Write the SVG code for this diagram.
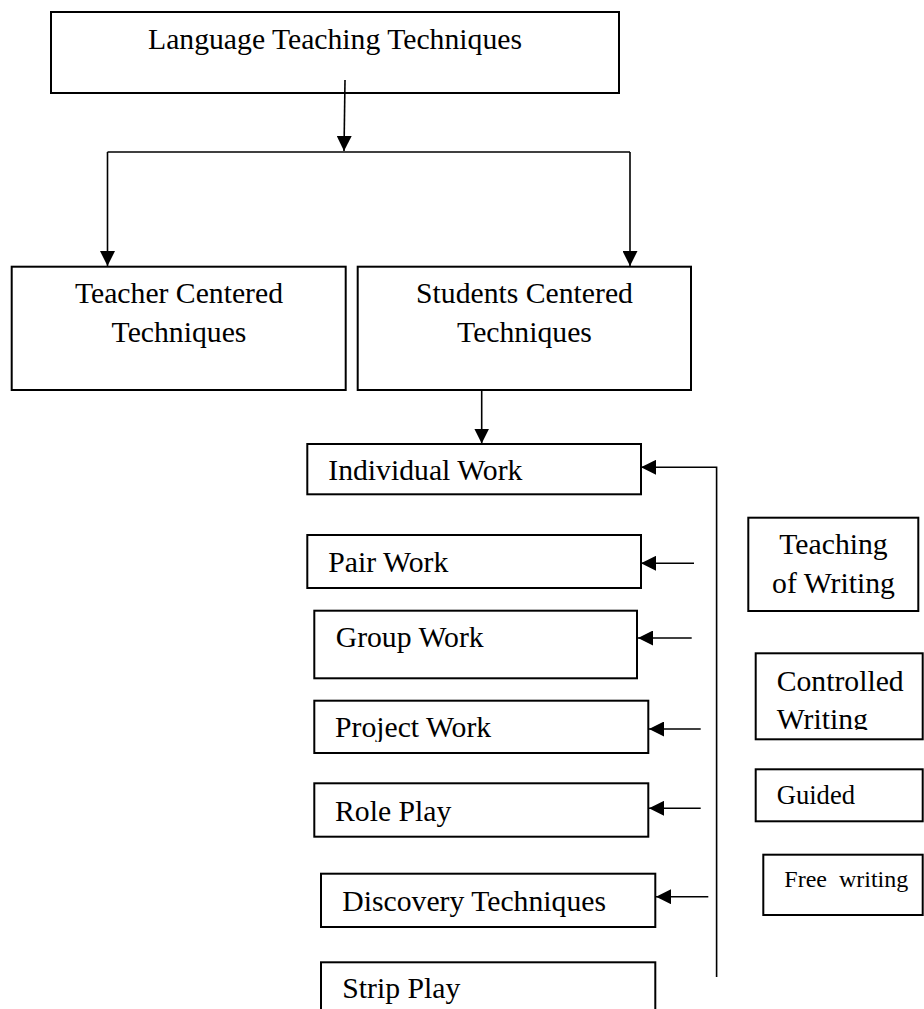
<svg xmlns="http://www.w3.org/2000/svg" width="924" height="1009" viewBox="0 0 924 1009">
<style>
.box{fill:#fff;stroke:#000;stroke-width:2}
.t{font-family:"Liberation Serif","Times New Roman",serif;font-size:29.7px;fill:#000}
.c{text-anchor:middle}
.conn{fill:none;stroke:#000;stroke-width:1.6}
</style>
<defs>
<marker id="ah" viewBox="0 0 15 15" markerWidth="15" markerHeight="15" refX="15" refY="7.5" orient="auto" markerUnits="userSpaceOnUse">
<path d="M0,0 L15,7.5 L0,15 Z" fill="#000"/>
</marker>
<clipPath id="clipCW"><rect x="750" y="650" width="174" height="80"/></clipPath>
<clipPath id="clipPW"><rect x="310" y="700" width="340" height="42"/></clipPath>
</defs>

<g id="n-top">
<rect class="box" x="51" y="12" width="568" height="81"/>
<text class="t c" x="335" y="49.3">Language Teaching Techniques</text>
</g>
<g id="n-teacher">
<rect class="box" x="11.7" y="266.7" width="334" height="123.3"/>
<text class="t c" x="179" y="303.3">Teacher Centered</text>
<text class="t c" x="179" y="341.7">Techniques</text>
</g>
<g id="n-students">
<rect class="box" x="357.7" y="266.7" width="333.3" height="123.3"/>
<text class="t c" x="524.5" y="303.3">Students Centered</text>
<text class="t c" x="524.5" y="341.7">Techniques</text>
</g>
<g id="n-individual">
<rect class="box" x="307.3" y="444" width="333.7" height="50.3"/>
<text class="t" x="328.3" y="480">Individual Work</text>
</g>
<g id="n-pair">
<rect class="box" x="307.3" y="535" width="333.7" height="53"/>
<text class="t" x="328.3" y="571.7">Pair Work</text>
</g>
<g id="n-group">
<rect class="box" x="314.3" y="610.7" width="322.7" height="67.6"/>
<text class="t" x="335.7" y="647.3">Group Work</text>
</g>
<g id="n-project">
<rect class="box" x="314.3" y="700.7" width="334" height="52.3"/>
<text class="t" x="335" y="737.3" clip-path="url(#clipPW)">Project Work</text>
</g>
<g id="n-role">
<rect class="box" x="314.3" y="783.3" width="334" height="53.4"/>
<text class="t" x="335" y="820.7">Role Play</text>
</g>
<g id="n-discovery">
<rect class="box" x="321" y="873.7" width="334.3" height="53.3"/>
<text class="t" x="342.3" y="910.7">Discovery Techniques</text>
</g>
<g id="n-strip">
<rect class="box" x="321" y="962.3" width="334.3" height="70"/>
<text class="t" x="342.3" y="998.3">Strip Play</text>
</g>
<g id="n-teaching-writing">
<rect class="box" x="748.3" y="517.7" width="170" height="93.3"/>
<text class="t c" x="833.5" y="554">Teaching</text>
<text class="t c" x="833.5" y="593.3">of Writing</text>
</g>
<g id="n-controlled">
<rect class="box" x="755.7" y="653.3" width="167" height="86"/>
<text class="t" x="776.7" y="690.7">Controlled</text>
<text class="t" x="776.7" y="729" clip-path="url(#clipCW)">Writing</text>
</g>
<g id="n-guided">
<rect class="box" x="755.7" y="769.3" width="167" height="52"/>
<text class="t" x="776.7" y="804.3" style="font-size:26.6px">Guided</text>
</g>
<g id="n-free">
<rect class="box" x="763.3" y="854.7" width="159.4" height="60.3"/>
<text class="t" x="784.3" y="886.7" style="font-size:24px;white-space:pre" xml:space="preserve">Free  writing</text>
</g>

<g id="connectors">
<path class="conn" d="M345,80 L344,151" marker-end="url(#ah)"/>
<path class="conn" d="M107.5,152 L630,152"/>
<path class="conn" d="M107.5,152 L107.5,266" marker-end="url(#ah)"/>
<path class="conn" d="M630,152 L630,266" marker-end="url(#ah)"/>
<path class="conn" d="M481.7,390 L481.7,443.5" marker-end="url(#ah)"/>
<path class="conn" d="M716.6,977 L716.6,467.3 L641,467.3" marker-end="url(#ah)"/>
<path class="conn" d="M694,563.3 L641,563.3" marker-end="url(#ah)"/>
<path class="conn" d="M691.7,638 L638,638" marker-end="url(#ah)"/>
<path class="conn" d="M700.7,729 L649,729" marker-end="url(#ah)"/>
<path class="conn" d="M700.7,808.3 L649,808.3" marker-end="url(#ah)"/>
<path class="conn" d="M708.3,896.7 L656,896.7" marker-end="url(#ah)"/>
</g>
</svg>
